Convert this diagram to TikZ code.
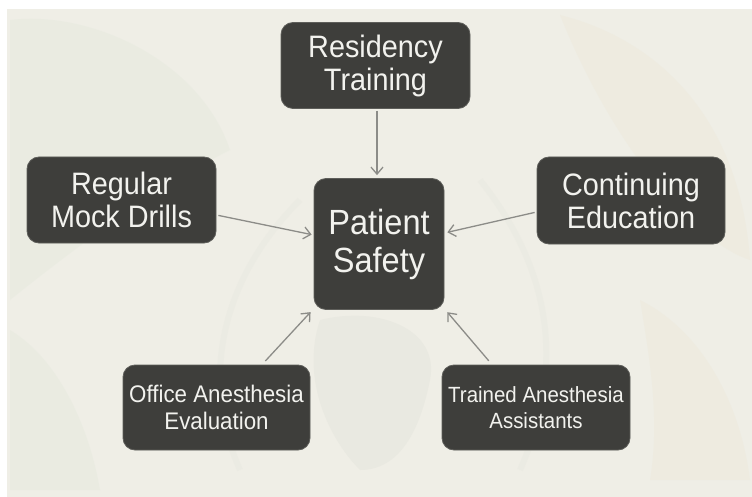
\documentclass[tikz,border=0pt]{standalone}
\usepackage{fontspec}
\setmainfont{Liberation Sans}
\newfontfamily\boxfont[FakeStretch=0.93]{Liberation Sans}
\usetikzlibrary{arrows.meta}

\definecolor{paper}{HTML}{EFEEE6}
\definecolor{boxfill}{HTML}{3E3E3B}
\definecolor{boxedge}{HTML}{5E5E5A}
\definecolor{boxtext}{HTML}{F2F2EE}
\definecolor{linkgray}{HTML}{8C8C88}
\definecolor{washgreen}{HTML}{DCE6D6}
\definecolor{washgray}{HTML}{D9DBD3}
\definecolor{washsand}{HTML}{EDE4CF}

\begin{document}
\begin{tikzpicture}[x=1pt,y=-1pt,
  box/.style={draw=boxedge, fill=boxfill, line width=0.8pt, rounded corners=12pt,
    text=boxtext, align=center, inner sep=0pt},
  link/.style={draw=linkgray, line width=1.3pt,
    -{Straight Barb[length=7pt,width=12pt]}}]

\useasboundingbox (0,0) rectangle (752,497);

% paper background with a faint painted wash
\fill[white] (0,0) rectangle (752,497);
\fill[paper] (7,9) rectangle (752,497);
\begin{scope}[opacity=0.25]
  \fill[washgreen] (10,20) .. controls (90,10) and (200,60) .. (230,150)
    .. controls (150,190) and (60,260) .. (10,300) -- cycle;
  \fill[washsand] (560,15) .. controls (660,40) and (740,120) .. (750,260)
    .. controls (690,240) and (610,140) .. (560,15) -- cycle;
  \fill[washgray] (320,320) .. controls (380,305) and (440,330) .. (430,380)
    .. controls (420,430) and (400,470) .. (360,470)
    .. controls (330,440) and (300,380) .. (320,320) -- cycle;
  \fill[washgreen] (10,330) .. controls (60,360) and (90,430) .. (100,490)
    -- (10,490) -- cycle;
  \fill[washsand] (640,300) .. controls (700,330) and (740,400) .. (750,480)
    -- (650,480) .. controls (660,420) and (650,360) .. (640,300) -- cycle;
\end{scope}
\begin{scope}[opacity=0.15, draw=washgray, line width=6pt]
  \draw (240,470) .. controls (200,380) and (220,280) .. (300,200);
  \draw (520,470) .. controls (560,380) and (560,280) .. (480,180);
\end{scope}

% boxes
\node[box, minimum width=189pt, minimum height=86pt,
  font=\boxfont\fontsize{31}{33}\selectfont] (rt) at (375.5,65.5) {Residency\\Training};
\node[box, minimum width=130pt, minimum height=131pt,
  font=\boxfont\fontsize{35}{38}\selectfont] (ps) at (379,244) {Patient\\Safety};
\node[box, minimum width=189pt, minimum height=86pt,
  font=\boxfont\fontsize{31}{33}\selectfont] (md) at (121.5,200) {Regular\\Mock Drills};
\node[box, minimum width=188pt, minimum height=87pt,
  font=\boxfont\fontsize{31}{33}\selectfont] (ce) at (631,200.5) {Continuing\\Education};
\node[box, minimum width=187pt, minimum height=85pt,
  font=\boxfont\fontsize{24}{27}\selectfont] (oe) at (216.5,407.5) {Office Anesthesia\\Evaluation};
\node[box, minimum width=188pt, minimum height=85pt,
  font=\boxfont\fontsize{22}{26}\selectfont] (ta) at (536,407.5) {Trained Anesthesia\\Assistants};

% connectors into the centre box
\draw[link, shorten <=2pt, shorten >=3pt]
  ([xshift=1.5pt]rt.south) -- ([xshift=-2pt]ps.north);
\draw[link, shorten <=2pt, shorten >=2pt]
  ([yshift=-15pt]md.east) -- ([yshift=9pt]ps.west);
\draw[link, shorten <=2pt, shorten >=3pt]
  ([yshift=-11.5pt]ce.west) -- ([yshift=11pt]ps.east);
\draw[link, shorten <=5pt, shorten >=3pt]
  ([xshift=45.5pt]oe.north) -- ([xshift=-1pt]ps.south west);
\draw[link, shorten <=5pt, shorten >=3pt]
  ([xshift=-44pt]ta.north) -- ([xshift=1pt]ps.south east);
\end{tikzpicture}
\end{document}
